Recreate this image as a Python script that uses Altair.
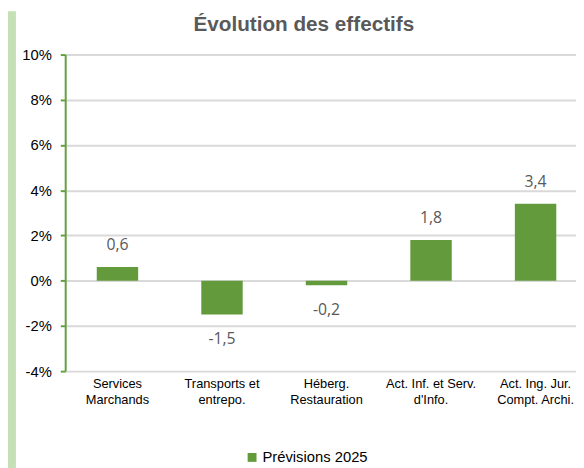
import altair as alt
import pandas as pd

categories = [
    "Services\nMarchands",
    "Transports et\nentrepo.",
    "Héberg.\nRestauration",
    "Act. Inf. et Serv.\nd'Info.",
    "Act. Ing. Jur.\nCompt. Archi.",
]
values = [0.6, -1.5, -0.2, 1.8, 3.4]
series = "Prévisions 2025"
title_text = "Évolution des effectifs"
y_ticks = [-4, -2, 0, 2, 4, 6, 8, 10]

df = pd.DataFrame({
    "cat": categories,
    "val": values,
    "serie": [series] * len(values),
    "lab": [f"{v:.1f}".replace(".", ",") for v in values],
})

GREEN = "#629a3c"
AXIS_GREEN = "#64a03e"

x_enc = alt.X(
    "cat:N",
    sort=categories,
    title=None,
    scale=alt.Scale(range=[0, 530], paddingInner=0.6, paddingOuter=0.3),
    axis=alt.Axis(
        labelExpr="split(datum.label, '\\n')",
        labelAngle=0,
        labelFont="Liberation Sans",
        labelFontSize=13,
        labelColor="#000000",
        labelLineHeight=16,
        labelPadding=7,
        labelBaseline="top",
        ticks=False,
        domain=False,
        grid=False,
        labelLimit=200,
    ),
)
y_scale = alt.Scale(domain=[-4, 10], nice=False, zero=False)

base = alt.Chart(df)

bars = base.mark_bar(size=42).encode(
    x=x_enc,
    y=alt.Y(
        "val:Q",
        scale=y_scale,
        title=None,
        axis=alt.Axis(
            values=y_ticks,
            labelExpr="datum.value + '%'",
            labelFont="Liberation Sans",
            labelFontSize=15,
            labelColor="#000000",
            labelPadding=9,
            tickSize=5,
            tickColor=AXIS_GREEN,
            tickWidth=2,
            domainColor=AXIS_GREEN,
            domainWidth=2,
            grid=True,
            gridColor="#d9d9d9",
            gridWidth=2,
        ),
    ),
    color=alt.Color(
        "serie:N",
        scale=alt.Scale(domain=[series], range=[GREEN]),
        legend=alt.Legend(
            title=None,
            orient="none",
            legendX=182,
            legendY=401,
            symbolType="square",
            symbolSize=81,
            symbolStrokeWidth=0,
            labelFont="Liberation Sans",
            labelFontSize=15,
            labelColor="#000000",
            labelOffset=3,
            padding=0,
        ),
    ),
)

lab_pos = base.transform_filter("datum.val >= 0").mark_text(
    font="Open Sans", fontSize=16, color="#595959", dy=-22, baseline="middle"
).encode(x=alt.X("cat:N", sort=categories), y=alt.Y("val:Q", scale=y_scale), text="lab:N")

lab_neg = base.transform_filter("datum.val < 0").mark_text(
    font="Open Sans", fontSize=16, color="#595959", dy=25, baseline="middle"
).encode(x=alt.X("cat:N", sort=categories), y=alt.Y("val:Q", scale=y_scale), text="lab:N")

title_df = pd.DataFrame({"t": [title_text]})
title = alt.Chart(title_df).mark_text(
    font="Liberation Sans", fontSize=21, fontWeight="bold", color="#595959",
    baseline="alphabetic", align="center"
).encode(text="t:N", x=alt.value(242), y=alt.value(-24))

strip = alt.Chart(title_df).mark_rect(color="#c5e0b4").encode(
    x=alt.value(-58), x2=alt.value(-50), y=alt.value(-44), y2=alt.value(430)
)

chart = alt.layer(strip, bars, lab_pos, lab_neg, title).properties(
    width=518,
    height=321,
    padding={"left": 58, "top": 44, "right": 0, "bottom": 95},
    autosize=alt.AutoSizeParams(type="none"),
).configure_view(stroke=None).configure(background="white")

chart.save("out.html", embed_options={"renderer": "svg", "actions": False})
